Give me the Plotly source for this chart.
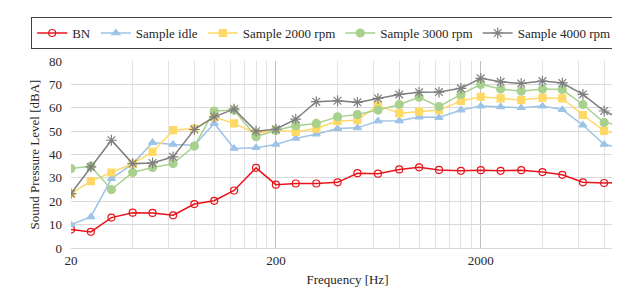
import plotly.graph_objects as go

freq = [20, 25, 31.5, 40, 50, 63, 80, 100, 125, 160, 200, 250, 315, 400, 500,
        630, 800, 1000, 1250, 1600, 2000, 2500, 3150, 4000, 5000, 6300, 8000, 10000]

bn = [7.9, 6.9, 13.0, 15.1, 15.0, 14.0, 18.8, 20.2, 24.6, 34.3, 27.1, 27.6, 27.6, 28.1, 32.0,
      31.8, 33.6, 34.5, 33.4, 33.0, 33.3, 33.0, 33.3, 32.5, 31.3, 28.1, 27.8, 28.1]
idle = [10.0, 13.3, 29.7, 36.0, 45.1, 44.3, 44.0, 53.3, 42.6, 42.9, 44.3, 46.9, 48.7, 51.1, 51.4,
        54.3, 54.4, 56.0, 55.8, 59.0, 60.7, 60.4, 60.0, 60.7, 59.2, 52.6, 44.3, 42.6]
rpm2000 = [23.3, 28.6, 32.3, 36.1, 41.1, 50.4, 51.1, 56.0, 53.3, 49.0, 50.4, 49.7, 51.1, 54.3, 54.7,
           61.0, 57.6, 58.3, 59.0, 62.9, 64.7, 64.0, 63.3, 64.3, 64.0, 56.9, 50.1, 48.3]
rpm3000 = [34.0, 35.0, 25.0, 32.3, 34.4, 36.1, 43.6, 58.6, 59.0, 47.6, 50.4, 52.3, 53.3, 56.1, 57.1,
           59.0, 61.4, 64.5, 60.5, 65.7, 70.0, 68.0, 67.1, 68.0, 67.8, 61.4, 53.7, 52.3]
rpm4000 = [23.3, 34.7, 46.1, 36.1, 36.4, 39.0, 50.7, 56.1, 59.4, 50.0, 50.8, 55.1, 62.6, 63.0, 62.3,
           64.0, 65.7, 66.6, 66.7, 68.3, 72.6, 71.1, 70.4, 71.4, 70.6, 65.7, 58.6, 54.7]

series = [
    ("BN", bn, "#E8141B", "circle-open", 7),
    ("Sample idle", idle, "#9DC3E6", "triangle-up", 7),
    ("Sample 2000 rpm", rpm2000, "#FFD966", "square", 7),
    ("Sample 3000 rpm", rpm3000, "#A9D18E", "circle", 8),
    ("Sample 4000 rpm", rpm4000, "#7F7F7F", "asterisk-open", 9),
]

FONT = "Liberation Serif, Times New Roman, DejaVu Serif, serif"

fig = go.Figure()
for name, vals, color, sym, size in series:
    fig.add_trace(go.Scatter(
        x=freq, y=vals, name=name, mode="lines+markers",
        line=dict(color=color, width=1.5),
        marker=dict(symbol=sym, size=size, color=color,
                    line=dict(color=color, width=1.2)),
    ))

minor_vals = []
for base in (20, 200, 2000):
    for k in range(2, 10):
        v = base * k
        if v <= 10000:
            minor_vals.append(v)

fig.update_layout(
    width=620, height=291,
    margin=dict(l=63, r=4, t=53, b=51),
    paper_bgcolor="white", plot_bgcolor="white",
    font=dict(family=FONT, size=13, color="#262626"),
    showlegend=True,
    legend=dict(orientation="h", x=-0.072, xanchor="left", y=1.235, yanchor="top",
                bordercolor="#404040", borderwidth=1, font=dict(family=FONT, size=13, color="#262626"),
                itemwidth=30, tracegroupgap=0, bgcolor="white"),
    xaxis=dict(type="log", range=[1.30103, 4.0], tickvals=[20, 200, 2000],
               ticktext=["20", "200", "2000"], showgrid=True, gridcolor="#BFBFBF", gridwidth=1,
               minor=dict(tickvals=minor_vals, showgrid=True, gridcolor="#E3E3E3", gridwidth=1, ticks=""),
               showline=True, linecolor="#D9D9D9", mirror=False, ticks="", zeroline=False,
               title=dict(text="Frequency [Hz]", font=dict(family=FONT, size=13), standoff=8),
               tickfont=dict(family=FONT, size=13)),
    yaxis=dict(range=[0, 80], dtick=10, showgrid=True, gridcolor="#D9D9D9", gridwidth=1,
               zeroline=False, ticks="", showline=False, ticklabelstandoff=8,
               title=dict(text="Sound Pressure Level [dBA]", font=dict(family=FONT, size=13), standoff=6),
               tickfont=dict(family=FONT, size=13)),
)

fig.write_html("out.html")
